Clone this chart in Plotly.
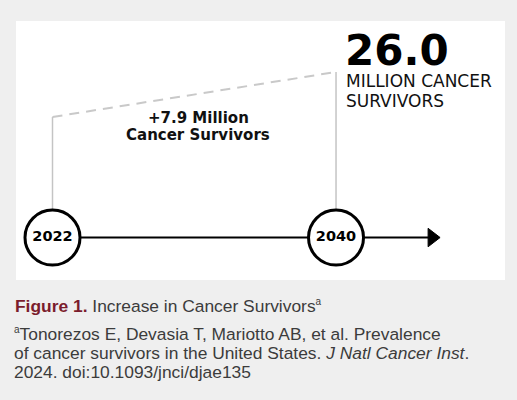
import plotly.graph_objects as go

# ---- data ----
years = [2022, 2040]
survivors_millions = [18.1, 26.0]
year_labels = ["2022", "2040"]
value_caption_lines = ["MILLION CANCER", "SURVIVORS"]
increase_caption = "Cancer Survivors"
fig_title = "Figure 1."
fig_subtitle = "Increase in Cancer Survivors"
SUP_A = "<sup><span style='font-size:10px'>a</span></sup>"
citation_lines = [
    SUP_A + "Tonorezos E, Devasia T, Mariotto AB, et al. Prevalence",
    "of cancer survivors in the United States. <i>J Natl Cancer Inst</i>.",
    "2024. doi:10.1093/jnci/djae135",
]

# ---- layout constants ----
W, H = 517, 400
baseline = -3.06          # timeline level, in axis units
arrow_end = 2046.1        # year where the timeline arrow ends
x_range = [2018.667, 2051.49]
y_range = [-31.58, 38.64]

def px_x(p):
    return p / W

def px_y(p):
    return 1 - p / H

BOLD = "DejaVu Sans"
CAP = "Liberation Sans"
CAP_SIZE = 17.4
CAP_COLOR = "#3c3c3c"

fig = go.Figure()

# vertical gray connectors
vx, vy = [], []
for yr, v in zip(years, survivors_millions):
    vx += [yr, yr, None]
    vy += [baseline, v, None]
fig.add_trace(go.Scatter(x=vx, y=vy, mode="lines",
                         line=dict(color="#c4c4c4", width=1.5),
                         hoverinfo="skip", showlegend=False))

# dashed increase line
fig.add_trace(go.Scatter(x=years, y=survivors_millions, mode="lines",
                         line=dict(color="#c9c9c9", width=2, dash="10px,7px"),
                         hoverinfo="skip", showlegend=False))

# timeline
fig.add_trace(go.Scatter(x=[years[0], arrow_end], y=[baseline, baseline], mode="lines",
                         line=dict(color="black", width=2),
                         hoverinfo="skip", showlegend=False))
fig.add_trace(go.Scatter(x=[arrow_end], y=[baseline], mode="markers",
                         marker=dict(symbol="triangle-right", size=16, color="black",
                                     line=dict(color="black", width=1)),
                         hoverinfo="skip", showlegend=False))

# year circles
fig.add_trace(go.Scatter(x=years, y=[baseline] * len(years), mode="markers+text",
                         marker=dict(symbol="circle", size=55, color="white",
                                     line=dict(color="black", width=3)),
                         text=[f"<b>{t}</b>" for t in year_labels],
                         textposition="middle center",
                         textfont=dict(family=BOLD, size=14.5, color="black"),
                         hoverinfo="skip", showlegend=False))

# white panel
fig.add_shape(type="rect", xref="paper", yref="paper",
              x0=px_x(16), x1=px_x(505), y0=px_y(280), y1=px_y(21),
              fillcolor="white", line=dict(width=0), layer="below")

ann = []
ann.append(dict(text=f"<b>{survivors_millions[-1]:.1f}</b>", xref="paper", yref="paper",
                x=px_x(343), y=px_y(50), xanchor="left", yanchor="middle",
                showarrow=False, font=dict(family=BOLD, size=42, color="black")))
for i, line in enumerate(value_caption_lines):
    ann.append(dict(text=line, xref="paper", yref="paper",
                    x=px_x(344), y=px_y(81 + 20 * i), xanchor="left", yanchor="middle",
                    showarrow=False, font=dict(family="DejaVu Sans", size=17, color="#111111")))
inc = survivors_millions[-1] - survivors_millions[0]
ann.append(dict(text=f"<b>+{inc:.1f} Million</b>", xref="paper", yref="paper",
                x=px_x(198), y=px_y(118), xanchor="center", yanchor="middle",
                showarrow=False, font=dict(family=BOLD, size=15, color="#111111")))
ann.append(dict(text=f"<b>{increase_caption}</b>", xref="paper", yref="paper",
                x=px_x(198), y=px_y(135), xanchor="center", yanchor="middle",
                showarrow=False, font=dict(family=BOLD, size=15, color="#111111")))

# caption
ann.append(dict(text=f"<span style='color:#7b1c2c'><b>{fig_title}</b></span> {fig_subtitle}{SUP_A}",
                xref="paper", yref="paper", x=px_x(13), y=px_y(306),
                xanchor="left", yanchor="middle", showarrow=False,
                font=dict(family=CAP, size=CAP_SIZE, color=CAP_COLOR)))
for i, line in enumerate(citation_lines):
    ann.append(dict(text=line, xref="paper", yref="paper", x=px_x(12), y=px_y(334 + 19 * i),
                    xanchor="left", yanchor="middle", showarrow=False,
                    font=dict(family=CAP, size=CAP_SIZE, color=CAP_COLOR)))

fig.update_layout(
    width=W, height=H,
    margin=dict(l=0, r=0, t=0, b=0),
    paper_bgcolor="#efefef", plot_bgcolor="rgba(0,0,0,0)",
    xaxis=dict(range=x_range, visible=False, fixedrange=True),
    yaxis=dict(range=y_range, visible=False, fixedrange=True),
    annotations=ann,
    showlegend=False,
)

fig.write_html("out.html",
               config={"displayModeBar": False},
               post_script="document.body.style.margin='0';document.body.style.background='#efefef';")
